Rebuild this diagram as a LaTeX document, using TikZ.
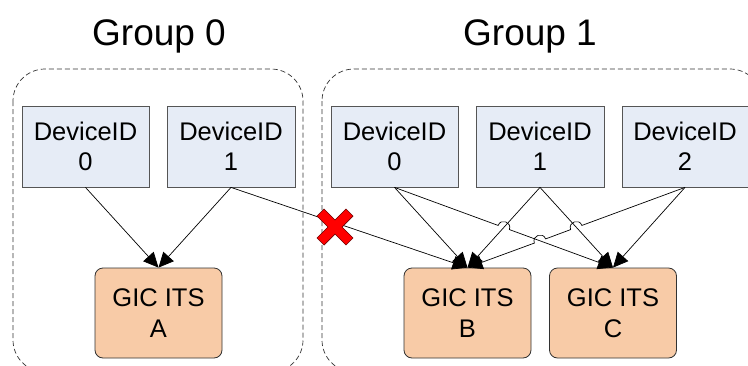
\documentclass[tikz,border=0pt]{standalone}
\usepackage{fontspec}
\setmainfont{Liberation Sans}
\usetikzlibrary{arrows.meta,calc}
\definecolor{devfill}{RGB}{230,236,246}
\definecolor{devdraw}{RGB}{85,85,85}
\definecolor{itsfill}{RGB}{248,203,167}
\definecolor{itsdraw}{RGB}{50,50,50}
\definecolor{xred}{RGB}{255,0,0}
\definecolor{xdark}{RGB}{110,0,0}
\begin{document}
\begin{tikzpicture}[x=1pt,y=-1pt,
  devbox/.style={draw=devdraw,fill=devfill,line width=0.8pt,minimum width=127pt,minimum height=81pt,align=center,inner sep=0pt,font=\fontsize{25.5}{30}\selectfont},
  itsbox/.style={draw=itsdraw,fill=itsfill,line width=0.8pt,rounded corners=8pt,minimum width=127pt,minimum height=90pt,align=center,inner sep=0pt,font=\fontsize{25.5}{31}\selectfont},
  groupbox/.style={draw=black!80,line width=0.7pt,dash pattern=on 5pt off 3pt,rounded corners=32pt},
  grouptitle/.style={anchor=base,font=\fontsize{37}{44}\selectfont},
  conn/.style={draw,line width=0.7pt,-{Triangle[length=15pt,width=14pt]}}]
\useasboundingbox (0,0) rectangle (748,365);
\fill[white] (0,0) rectangle (748,365);
% groups
\draw[groupbox] (13,69) rectangle (303,372);
\draw[groupbox] (322,69) rectangle (762,372);
\node[grouptitle] (t0) at (159,45) {Group 0};
\node[grouptitle] (t1) at (530,45) {Group 1};
% devices
\node[devbox] (d0a) at (85.5,146.5) {DeviceID\\0};
\node[devbox,minimum width=128pt] (d1a) at (231,146.5) {DeviceID\\1};
\node[devbox] (d0b) at (394.5,146.5) {DeviceID\\0};
\node[devbox,minimum width=128pt] (d1b) at (540,146.5) {DeviceID\\1};
\node[devbox,minimum width=126pt] (d2b) at (685,146.5) {DeviceID\\2};
% ITS
\node[itsbox] (A) at (158.5,313) {GIC ITS\\A};
\node[itsbox] (B) at (467.5,313) {GIC ITS\\B};
\node[itsbox] (C) at (613,313) {GIC ITS\\C};
% crossing points
\coordinate (h1) at (503.75,227.5);
\coordinate (h2) at (540,241);
\coordinate (h3) at (576.25,227.5);
% connectors
\draw[conn] (d0a.south) -- (A.north);
\draw[conn] (d1a.south) -- (A.north);
\draw[conn] (d1a.south) -- (B.north);
\draw[conn] (d0b.south) -- (B.north);
\draw[conn] (d0b.south) -- ($(h1)!6pt!(d0b.south)$) to[bend left=90,looseness=1.7] ($(h1)!6pt!(C.north)$) -- (C.north);
\draw[conn] (d1b.south) -- (B.north);
\draw[conn] (d1b.south) -- (C.north);
\draw[conn] (d2b.south) -- ($(h3)!6pt!(d2b.south)$) to[bend right=90,looseness=1.7] ($(h3)!6pt!(h2)$) -- ($(h2)!6pt!(h3)$) to[bend right=90,looseness=1.7] ($(h2)!6pt!(B.north)$) -- (B.north);
\draw[conn] (d2b.south) -- (C.north);
% red cross
\begin{scope}[shift={(335,227)},rotate=45]
\filldraw[fill=xred,draw=xdark,line width=0.6pt]
  (5,5) -- (20.5,5) -- (20.5,-5) -- (5,-5) -- (5,-20.5) -- (-5,-20.5) -- (-5,-5) -- (-20.5,-5) -- (-20.5,5) -- (-5,5) -- (-5,20.5) -- (5,20.5) -- cycle;
\end{scope}
\end{tikzpicture}
\end{document}
